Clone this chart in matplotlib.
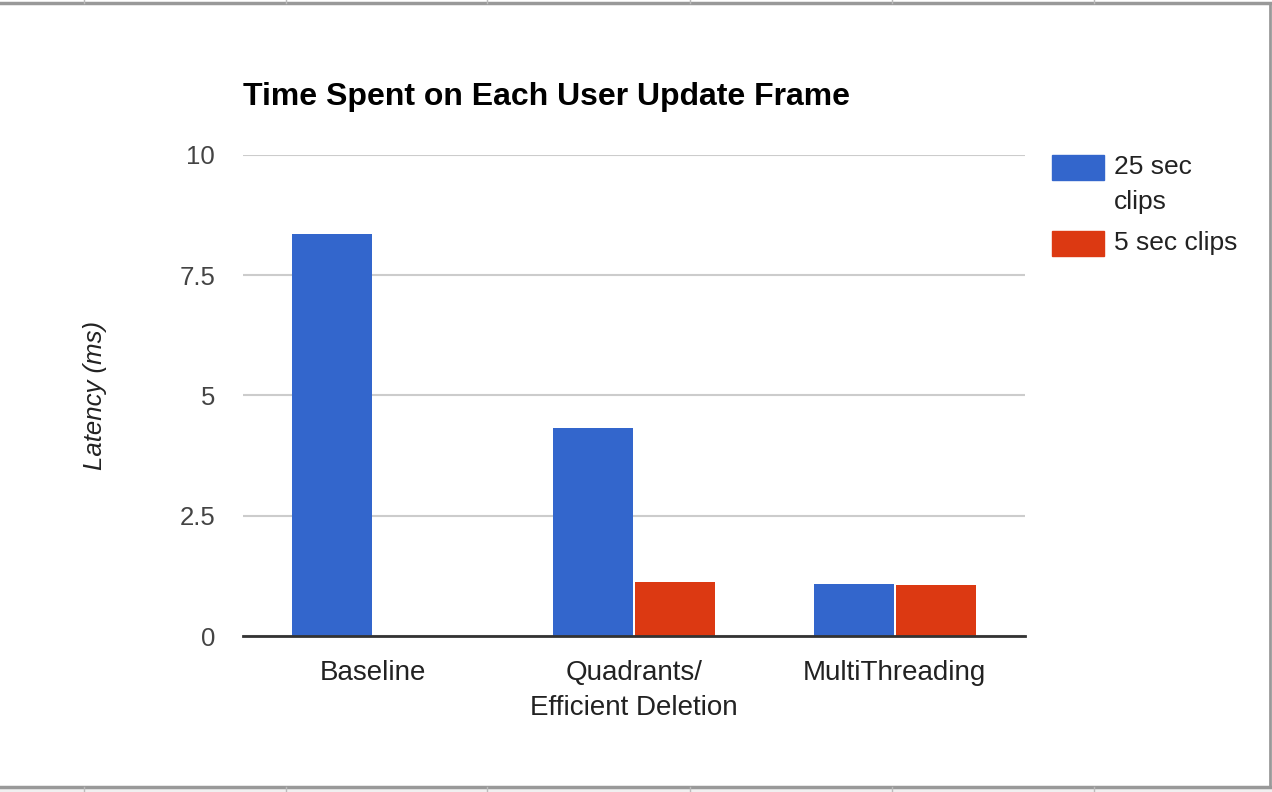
import numpy as np
import matplotlib
matplotlib.use("Agg")
import matplotlib.pyplot as plt
from matplotlib.lines import Line2D
from matplotlib.patches import Rectangle

plt.rcParams['font.family'] = ['Liberation Sans', 'DejaVu Sans']

# data
categories = ["Baseline", "Quadrants/\nEfficient Deletion", "MultiThreading"]
series_names = ["25 sec\nclips", "5 sec clips"]
clips_25 = [8.36, 4.33, 1.08]
clips_5 = [0.0, 1.13, 1.05]
yticks = [0, 2.5, 5, 7.5, 10]
ytick_labels = ["0", "2.5", "5", "7.5", "10"]
colors = ["#3366CC", "#DC3912"]

W, H = 1272, 792
fig = plt.figure(figsize=(W/100, H/100), dpi=100)
ax = fig.add_axes([243/W, 1 - 636/H, (1025-243)/W, (636-155)/H])

x = np.arange(len(categories))
w = 0.307
gap = 0.004
ax.bar(x - w/2 - gap, clips_25, width=w, color=colors[0], zorder=3)
ax.bar(x + w/2 + gap, clips_5, width=w, color=colors[1], zorder=3)

ax.set_xlim(-0.5, 2.5)
ax.set_ylim(0, 10)
ax.set_yticks(yticks)
ax.set_yticklabels(ytick_labels, fontsize=18.5, color="#444444")
ax.set_xticks(x)
ax.set_xticklabels(categories, fontsize=20, color="#222222", linespacing=1.45, va="top")
ax.tick_params(length=0)
ax.tick_params(axis="y", pad=20)
ax.tick_params(axis="x", pad=17)

ax.grid(axis="y", color="#cccccc", linewidth=1.5, zorder=0)
for s in ["top", "right", "left"]:
    ax.spines[s].set_visible(False)
ax.spines["bottom"].set_color("#333333")
ax.spines["bottom"].set_linewidth(2)
ax.spines["bottom"].set_zorder(4)

ax.set_ylabel("Latency (ms)", fontsize=18.5, style="italic", color="#222222", labelpad=52)

fig.text(243/W, 1 - 97/H, "Time Spent on Each User Update Frame",
         fontsize=23, fontweight="bold", color="#000000", va="center", ha="left")

# legend drawn by hand, google sheets style
swatch_y = [167, 243]
line_step = 35
for i, name in enumerate(series_names):
    yc = swatch_y[i]
    fig.add_artist(Rectangle((1052/W, 1 - (yc+12.5)/H), 52/W, 25/H,
                             transform=fig.transFigure, color=colors[i]))
    for j, part in enumerate(name.split("\n")):
        fig.text(1114/W, 1 - (yc + j*line_step)/H, part, fontsize=19,
                 color="#222222", va="center", ha="left")

# spreadsheet cell borders around the chart
edge = "#999999"
fig.add_artist(Line2D([0, 1], [1 - 3/H, 1 - 3/H], transform=fig.transFigure, color=edge, linewidth=2.5))
fig.add_artist(Line2D([0, 1270/W], [1 - 787/H, 1 - 787/H], transform=fig.transFigure, color=edge, linewidth=2.5))
fig.add_artist(Line2D([1270/W, 1270/W], [1 - 787/H, 1 - 3/H], transform=fig.transFigure, color=edge, linewidth=2))
fig.add_artist(Rectangle((0, 0), 1, 4/H, transform=fig.transFigure, color="#f0f0f0", zorder=-1))
for cx in [84, 286, 487, 690, 892, 1094]:
    fig.add_artist(Line2D([cx/W, cx/W], [1, 1 - 3/H], transform=fig.transFigure, color="#bbbbbb", linewidth=1))
    fig.add_artist(Line2D([cx/W, cx/W], [0, 1 - 787/H], transform=fig.transFigure, color="#bbbbbb", linewidth=1))

fig.savefig("out.png", dpi=100)
